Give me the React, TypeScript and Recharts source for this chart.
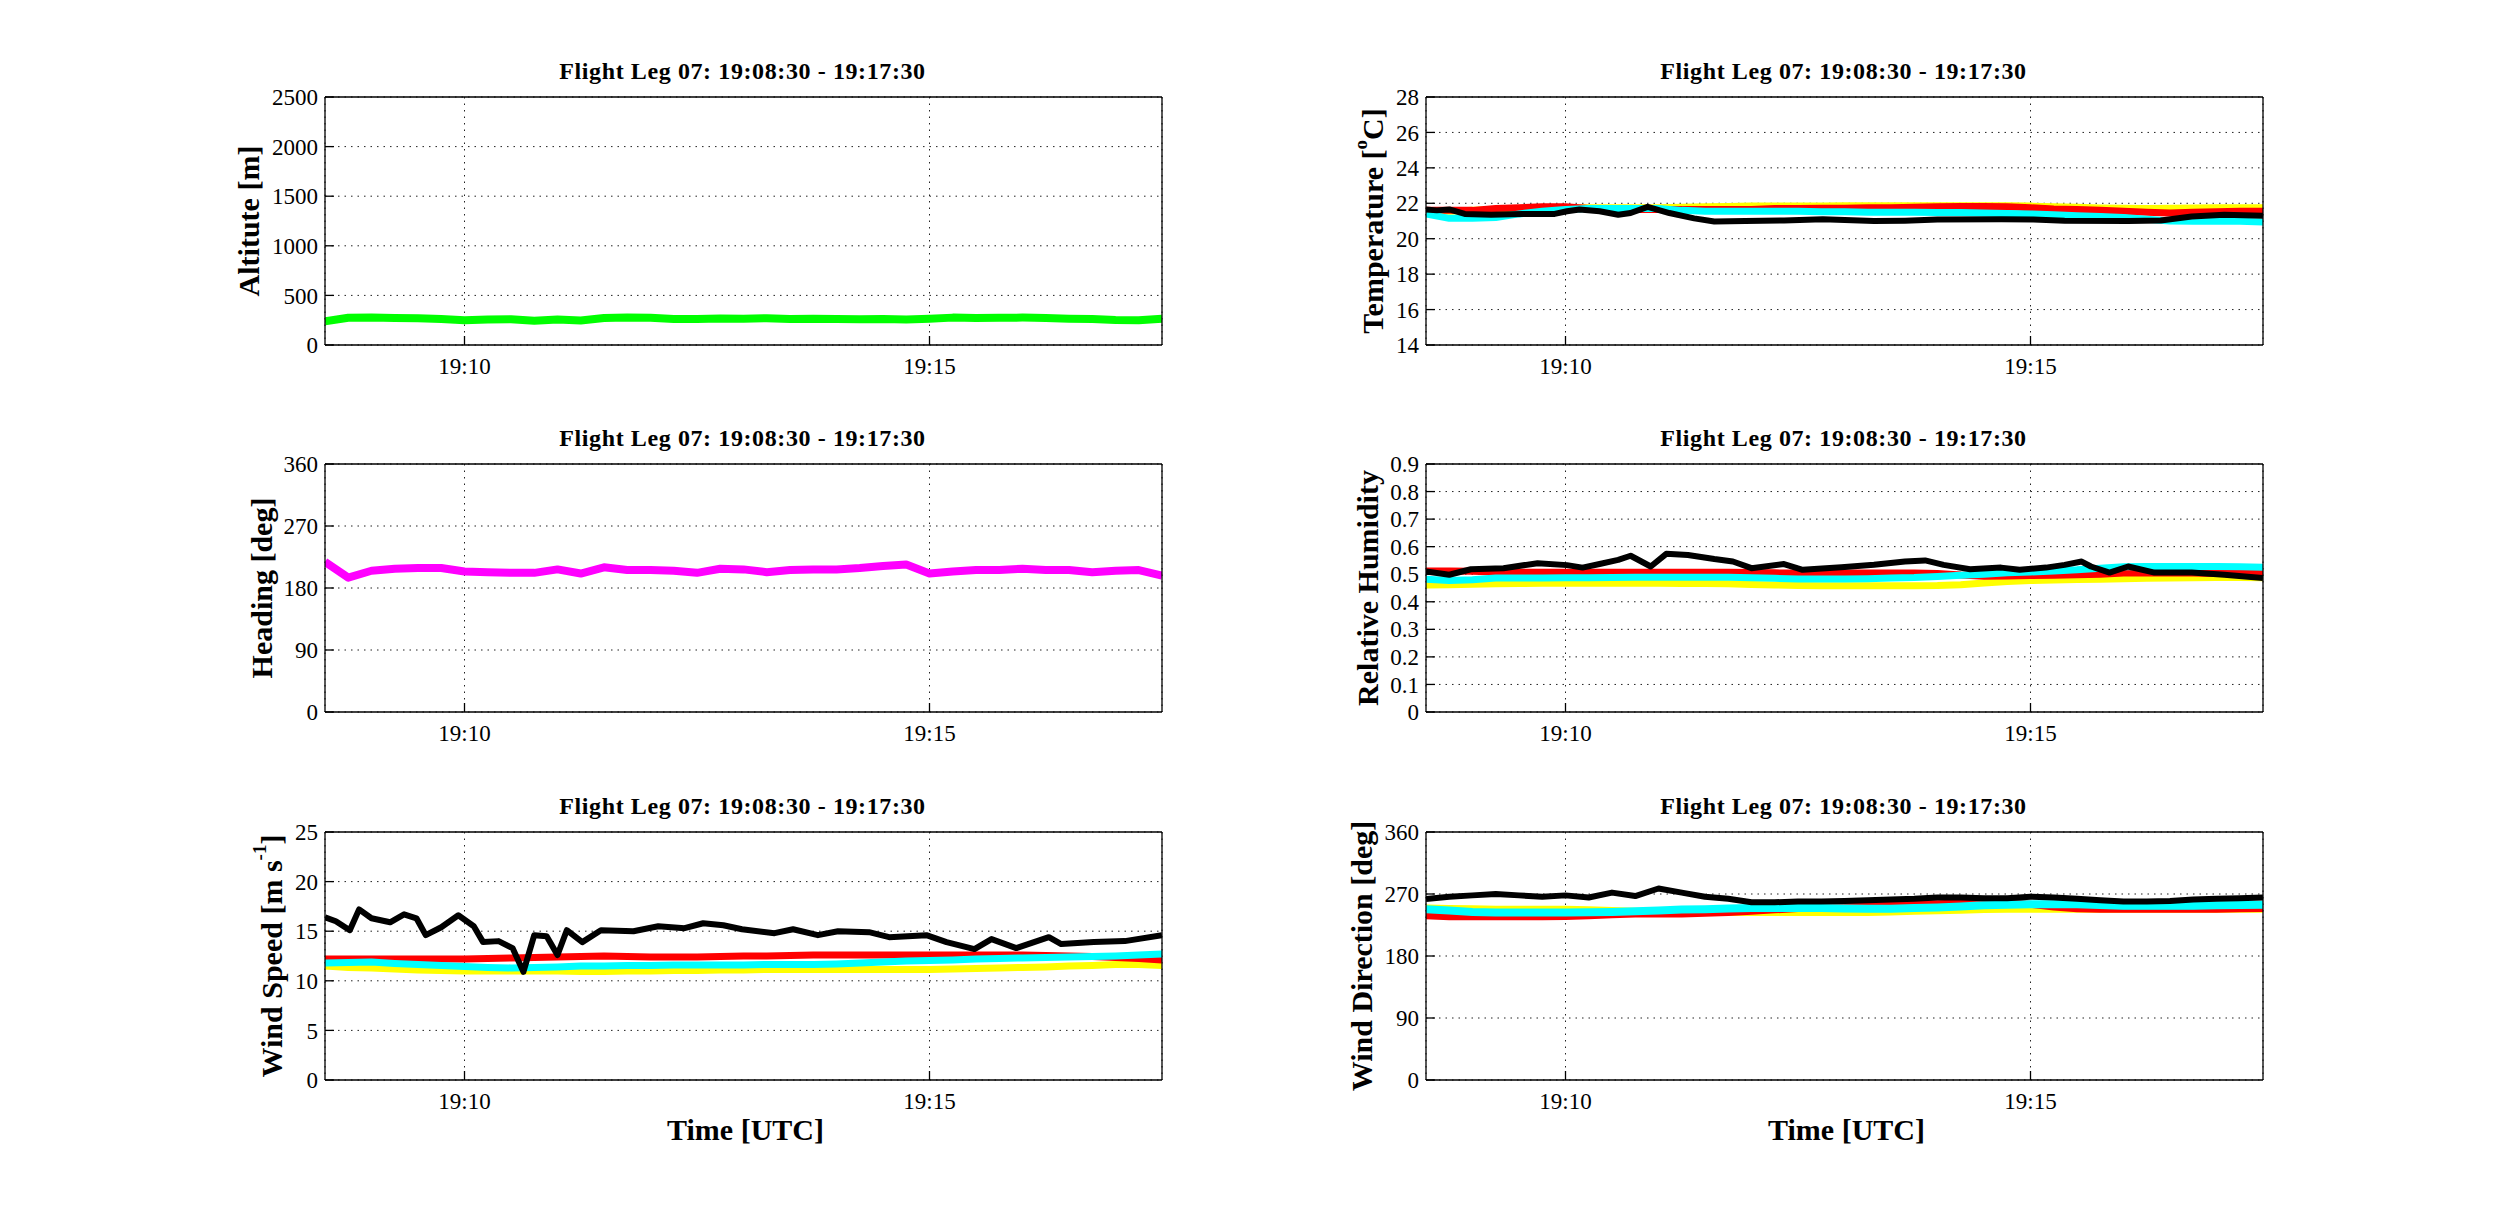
import React from 'react';
import { LineChart, Line, XAxis, YAxis, CartesianGrid } from 'recharts';

// seconds after 19:08:30, one sample every 15 s
const t15 = [0, 15, 30, 45, 60, 75, 90, 105, 120, 135, 150, 165, 180, 195, 210, 225, 240, 255, 270, 285, 300, 315, 330, 345, 360, 375, 390, 405, 420, 435, 450, 465, 480, 495, 510, 525, 540];
const timeTicks = [90, 390];
const timeTickLabels = ['19:10', '19:15'];

const altitude = [240, 275, 278, 272, 270, 262, 250, 258, 260, 245, 258, 248, 272, 276, 274, 262, 262, 268, 265, 270, 262, 265, 262, 260, 262, 258, 265, 276, 272, 275, 276, 272, 265, 262, 252, 250, 265];
const heading = [218, 195, 205, 208, 209, 209, 204, 203, 202, 202, 207, 201, 210, 206, 206, 205, 202, 208, 207, 203, 206, 207, 207, 209, 212, 214, 201, 204, 206, 206, 208, 206, 206, 203, 205, 206, 198];

const tempYellow = [21.55, 21.55, 21.6, 21.65, 21.7, 21.75, 21.75, 21.75, 21.75, 21.75, 21.75, 21.78, 21.8, 21.82, 21.84, 21.85, 21.85, 21.85, 21.86, 21.86, 21.86, 21.86, 21.86, 21.86, 21.86, 21.86, 21.84, 21.8, 21.77, 21.74, 21.72, 21.7, 21.72, 21.74, 21.75, 21.75, 21.75];
const tempRed = [21.6, 21.6, 21.6, 21.7, 21.75, 21.8, 21.8, 21.7, 21.65, 21.65, 21.65, 21.65, 21.65, 21.65, 21.65, 21.7, 21.7, 21.72, 21.72, 21.75, 21.75, 21.78, 21.8, 21.82, 21.82, 21.8, 21.75, 21.68, 21.65, 21.6, 21.55, 21.5, 21.45, 21.5, 21.52, 21.55, 21.55];
const tempCyan = [21.4, 21.15, 21.15, 21.2, 21.4, 21.55, 21.65, 21.7, 21.7, 21.7, 21.7, 21.6, 21.55, 21.55, 21.55, 21.55, 21.55, 21.52, 21.52, 21.5, 21.5, 21.5, 21.48, 21.48, 21.45, 21.42, 21.4, 21.35, 21.3, 21.25, 21.2, 21.1, 21.0, 20.98, 21.0, 20.98, 20.95];
const tempBlackT = [0, 7, 15, 25, 42, 62, 83, 91, 99, 112, 124, 132, 143, 157, 173, 186, 206, 231, 256, 289, 309, 330, 371, 392, 412, 453, 474, 494, 515, 540];
const tempBlack = [21.65, 21.6, 21.65, 21.4, 21.35, 21.4, 21.4, 21.55, 21.65, 21.55, 21.35, 21.45, 21.8, 21.45, 21.15, 20.97, 21.0, 21.03, 21.1, 21.0, 21.02, 21.08, 21.1, 21.08, 21.02, 21.0, 21.03, 21.25, 21.35, 21.3];

const rhYellow = [0.461, 0.462, 0.464, 0.465, 0.466, 0.467, 0.467, 0.467, 0.467, 0.467, 0.467, 0.466, 0.466, 0.465, 0.463, 0.461, 0.459, 0.458, 0.458, 0.458, 0.458, 0.458, 0.459, 0.462, 0.468, 0.474, 0.477, 0.479, 0.481, 0.482, 0.484, 0.485, 0.486, 0.487, 0.488, 0.488, 0.487];
const rhRed = [0.512, 0.512, 0.511, 0.508, 0.507, 0.507, 0.507, 0.507, 0.507, 0.507, 0.507, 0.507, 0.507, 0.507, 0.506, 0.505, 0.504, 0.504, 0.504, 0.504, 0.504, 0.504, 0.503, 0.497, 0.493, 0.494, 0.495, 0.496, 0.498, 0.5, 0.504, 0.504, 0.504, 0.504, 0.503, 0.503, 0.503];
const rhCyan = [0.482, 0.477, 0.48, 0.486, 0.486, 0.486, 0.487, 0.487, 0.488, 0.489, 0.489, 0.489, 0.489, 0.489, 0.487, 0.485, 0.483, 0.483, 0.483, 0.484, 0.486, 0.488, 0.492, 0.496, 0.5, 0.505, 0.508, 0.512, 0.516, 0.522, 0.527, 0.528, 0.528, 0.528, 0.528, 0.527, 0.525];
const rhBlackT = [0, 15, 29, 50, 72, 91, 101, 112, 124, 132, 145, 155, 169, 186, 198, 210, 231, 243, 268, 289, 309, 322, 334, 351, 371, 383, 400, 412, 423, 429, 441, 453, 470, 494, 515, 540];
const rhBlack = [0.51, 0.498, 0.518, 0.522, 0.54, 0.533, 0.524, 0.537, 0.552, 0.567, 0.528, 0.574, 0.57, 0.555, 0.546, 0.522, 0.537, 0.516, 0.525, 0.534, 0.546, 0.55, 0.534, 0.518, 0.524, 0.516, 0.524, 0.534, 0.546, 0.528, 0.506, 0.528, 0.506, 0.506, 0.498, 0.486];

const wsYellow = [11.5, 11.35, 11.3, 11.2, 11.1, 11.05, 11.0, 11.0, 11.0, 11.0, 11.0, 10.95, 10.95, 11.0, 11.0, 11.05, 11.05, 11.1, 11.1, 11.15, 11.15, 11.15, 11.15, 11.15, 11.15, 11.15, 11.15, 11.2, 11.25, 11.3, 11.35, 11.4, 11.5, 11.55, 11.65, 11.65, 11.55];
const wsRed = [12.2, 12.2, 12.2, 12.2, 12.2, 12.2, 12.2, 12.25, 12.3, 12.35, 12.4, 12.45, 12.5, 12.45, 12.4, 12.4, 12.4, 12.45, 12.5, 12.5, 12.55, 12.6, 12.6, 12.6, 12.6, 12.6, 12.6, 12.6, 12.6, 12.6, 12.6, 12.55, 12.5, 12.45, 12.35, 12.25, 12.1];
const wsCyan = [11.8, 11.85, 11.9, 11.75, 11.65, 11.55, 11.45, 11.35, 11.3, 11.35, 11.4, 11.5, 11.5, 11.55, 11.55, 11.6, 11.6, 11.6, 11.6, 11.65, 11.65, 11.65, 11.7, 11.8, 11.9, 12.0, 12.05, 12.1, 12.2, 12.25, 12.3, 12.35, 12.4, 12.45, 12.5, 12.6, 12.7];
const wsBlackT = [0, 7, 16, 22, 30, 42, 51, 59, 65, 75, 86, 96, 102, 112, 121, 128, 135, 143, 150, 156, 166, 178, 199, 215, 232, 244, 257, 269, 290, 302, 318, 331, 351, 364, 388, 401, 419, 430, 446, 467, 475, 496, 516, 540];
const wsBlack = [16.4, 16.0, 15.1, 17.2, 16.3, 15.9, 16.7, 16.3, 14.6, 15.4, 16.6, 15.5, 13.9, 14.0, 13.3, 10.9, 14.6, 14.5, 12.6, 15.1, 13.9, 15.1, 15.0, 15.5, 15.3, 15.8, 15.6, 15.2, 14.8, 15.2, 14.6, 15.0, 14.9, 14.4, 14.6, 13.9, 13.2, 14.2, 13.3, 14.4, 13.7, 13.9, 14.0, 14.6];

const wdYellow = [249.5, 249, 248.5, 248, 248, 248, 248, 247, 246, 245, 244.5, 244, 243.5, 243, 243, 243, 243, 243, 243, 243, 244, 245, 245.6, 246.5, 247.5, 248, 248, 248, 248, 248, 248, 248, 248, 248, 248, 248, 248];
const wdRed = [238.3, 237, 237, 237, 237, 237, 237.5, 238.5, 240, 240.8, 240.8, 240.8, 242, 243, 245, 247, 249, 251, 253, 254, 255, 255.5, 256, 257, 257.5, 257.8, 255, 251, 248.5, 248, 248, 248, 248, 248, 248, 248.5, 249];
const wdCyan = [248, 246, 244, 243, 243, 243, 243, 243.5, 244, 245, 246, 247.5, 248, 249, 249.5, 249.5, 249.5, 249.5, 249, 248.5, 248.5, 249.5, 250.5, 252, 253.5, 254.5, 255, 255, 255, 254, 253, 253, 253, 253, 253.5, 254, 254.5];
const wdBlack = [262.7, 266, 268, 270, 268, 266, 268, 265, 272, 267, 278, 272, 266, 263, 258, 258, 259, 259, 260, 261, 262, 263, 265, 265, 264, 264, 266, 265, 263, 261, 259, 259, 260, 262, 263, 264, 265];

const altTicks = [0, 500, 1000, 1500, 2000, 2500];
const tempTicks = [14, 16, 18, 20, 22, 24, 26, 28];
const degTicks = [0, 90, 180, 270, 360];
const rhTicks = [0, 0.1, 0.2, 0.3, 0.4, 0.5, 0.6, 0.7, 0.8, 0.9];
const wsTicks = [0, 5, 10, 15, 20, 25];

const TITLE = 'Flight Leg 07: 19:08:30 - 19:17:30';
const FONT = '"Liberation Serif", "Times New Roman", serif';

const AXIS_W = 150;
const PLOT_W = 837;
const PLOT_H = 248;
const TOP_PAD = 22;
const RIGHT_PAD = 10;
const BOTTOM_H = 50;
const TICK = 9;
const CHART_W = AXIS_W + PLOT_W + RIGHT_PAD;
const CHART_H = TOP_PAD + PLOT_H + BOTTOM_H;

const pairs = (ts: number[], vs: number[]) => ts.map((t, i) => ({ t, v: vs[i] }));

type Series = { data: { t: number; v: number }[]; color: string; width: number };

const fmtTime = (v: number) => timeTickLabels[timeTicks.indexOf(v)] ?? '';

interface PanelProps {
    plotLeft: number;
    plotTop: number;
    domain: [number, number];
    ticks: number[];
    series: Series[];
    label: React.ReactNode;
    labelX: number;
    showTimeLabel?: boolean;
}

const Panel: React.FC<PanelProps> = ({ plotLeft, plotTop, domain, ticks, series, label, labelX, showTimeLabel }) => {
    const cx = plotLeft + PLOT_W / 2;
    const ly = TOP_PAD + PLOT_H / 2;
    return (
        <>
            <div style={{ position: 'absolute', left: cx - 1, top: plotTop - 26.5, transform: 'translate(-50%, -50%)', fontFamily: FONT, fontWeight: 'bold', fontSize: 24, letterSpacing: 0.6, lineHeight: 1, whiteSpace: 'nowrap' }}>
                {TITLE}
            </div>
            <div style={{ position: 'absolute', left: plotLeft - AXIS_W, top: plotTop - TOP_PAD, width: CHART_W, height: CHART_H }}>
                <LineChart width={CHART_W} height={CHART_H} margin={{ top: TOP_PAD - 1, right: RIGHT_PAD - 1, bottom: 0, left: 0 }}>
                    <CartesianGrid stroke="#222" strokeDasharray="1.5 5" strokeWidth={1} />
                    <XAxis dataKey="t" type="number" domain={[0, 540]} ticks={timeTicks} tickFormatter={fmtTime} interval={0}
                        height={BOTTOM_H} tickSize={-TICK} tickMargin={TICK + 13} stroke="#000" strokeWidth={1.3}
                        tick={{ fill: '#000', fontSize: 23, fontFamily: FONT }} allowDataOverflow />
                    <XAxis xAxisId="top" orientation="top" dataKey="t" type="number" domain={[0, 540]} ticks={timeTicks} interval={0}
                        height={1} tickSize={-TICK} tick={false} stroke="#000" strokeWidth={1.3} />
                    <YAxis type="number" domain={domain} ticks={ticks} interval={0} width={AXIS_W} tickSize={-TICK} tickMargin={TICK + 7}
                        stroke="#000" strokeWidth={1.3} tick={{ fill: '#000', fontSize: 23, fontFamily: FONT }} allowDataOverflow />
                    <YAxis yAxisId="right" orientation="right" type="number" domain={domain} ticks={ticks} interval={0} width={1}
                        tickSize={-TICK} tick={false} stroke="#000" strokeWidth={1.3} />
                    {series.map((s, i) => (
                        <Line key={i} data={s.data} dataKey="v" type="linear" stroke={s.color} strokeWidth={s.width}
                            dot={false} activeDot={false} isAnimationActive={false} strokeLinejoin="round" />
                    ))}
                </LineChart>
                <svg width={CHART_W} height={CHART_H} style={{ position: 'absolute', left: 0, top: 0, pointerEvents: 'none' }}>
                    <text x={labelX} y={ly} transform={`rotate(-90, ${labelX}, ${ly})`}
                        textAnchor="middle" dominantBaseline="central" fontFamily={FONT} fontWeight="bold" fontSize={30} fill="#000">
                        {label}
                    </text>
                </svg>
            </div>
            {showTimeLabel && (
                <div style={{ position: 'absolute', left: cx + 2, top: plotTop + PLOT_H + 50, transform: 'translate(-50%, -50%)', fontFamily: FONT, fontWeight: 'bold', fontSize: 30, lineHeight: 1, whiteSpace: 'nowrap' }}>
                    Time [UTC]
                </div>
            )}
        </>
    );
};

const LEFT_X = 325;
const RIGHT_X = 1426;
const ROW_Y = [97, 464, 832];

export default function App() {
    return (
        <div style={{ position: 'relative', width: 2500, height: 1224, background: '#fff' }}>
            <style>{'body{margin:0;background:#fff;}'}</style>
            <Panel plotLeft={LEFT_X} plotTop={ROW_Y[0]} domain={[0, 2500]} ticks={altTicks} labelX={73}
                label="Altitute [m]"
                series={[{ data: pairs(t15, altitude), color: '#00ff00', width: 8 }]} />
            <Panel plotLeft={RIGHT_X} plotTop={ROW_Y[0]} domain={[14, 28]} ticks={tempTicks} labelX={96}
                label={<>Temperature [<tspan dy={-12} fontSize={19}>o</tspan><tspan dy={12}>C]</tspan></>}
                series={[
                    { data: pairs(t15, tempYellow), color: '#ffff00', width: 7 },
                    { data: pairs(t15, tempRed), color: '#ff0000', width: 7 },
                    { data: pairs(t15, tempCyan), color: '#00ffff', width: 7 },
                    { data: pairs(tempBlackT, tempBlack), color: '#000000', width: 6 },
                ]} />
            <Panel plotLeft={LEFT_X} plotTop={ROW_Y[1]} domain={[0, 360]} ticks={degTicks} labelX={86}
                label="Heading [deg]"
                series={[{ data: pairs(t15, heading), color: '#ff00ff', width: 8 }]} />
            <Panel plotLeft={RIGHT_X} plotTop={ROW_Y[1]} domain={[0, 0.9]} ticks={rhTicks} labelX={91}
                label="Relative Humidity"
                series={[
                    { data: pairs(t15, rhYellow), color: '#ffff00', width: 7 },
                    { data: pairs(t15, rhRed), color: '#ff0000', width: 7 },
                    { data: pairs(t15, rhCyan), color: '#00ffff', width: 7 },
                    { data: pairs(rhBlackT, rhBlack), color: '#000000', width: 6 },
                ]} />
            <Panel plotLeft={LEFT_X} plotTop={ROW_Y[2]} domain={[0, 25]} ticks={wsTicks} labelX={96} showTimeLabel
                label={<>Wind Speed [m s<tspan dy={-12} fontSize={19}>-1</tspan><tspan dy={12}>]</tspan></>}
                series={[
                    { data: pairs(t15, wsYellow), color: '#ffff00', width: 7 },
                    { data: pairs(t15, wsRed), color: '#ff0000', width: 7 },
                    { data: pairs(t15, wsCyan), color: '#00ffff', width: 7 },
                    { data: pairs(wsBlackT, wsBlack), color: '#000000', width: 6 },
                ]} />
            <Panel plotLeft={RIGHT_X} plotTop={ROW_Y[2]} domain={[0, 360]} ticks={degTicks} labelX={85} showTimeLabel
                label="Wind Direction [deg]"
                series={[
                    { data: pairs(t15, wdYellow), color: '#ffff00', width: 7 },
                    { data: pairs(t15, wdRed), color: '#ff0000', width: 7 },
                    { data: pairs(t15, wdCyan), color: '#00ffff', width: 8 },
                    { data: pairs(t15, wdBlack), color: '#000000', width: 6 },
                ]} />
        </div>
    );
}
